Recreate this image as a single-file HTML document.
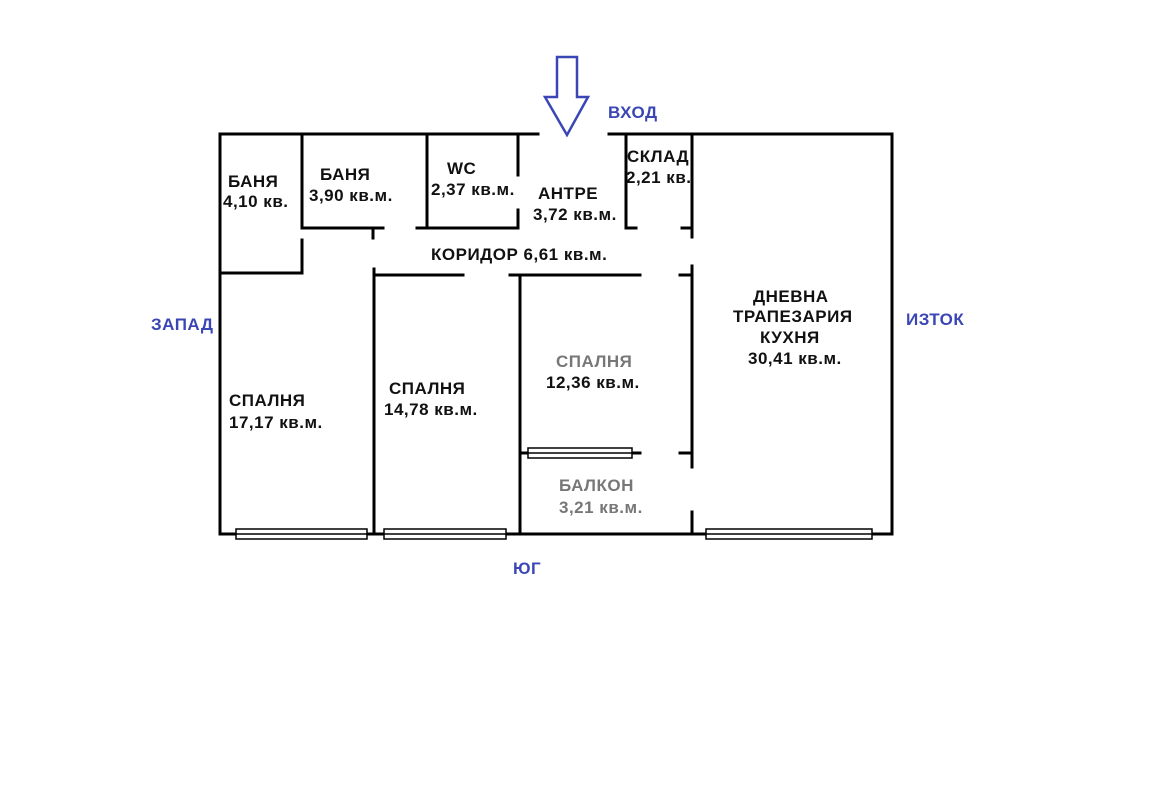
<!DOCTYPE html>
<html><head><meta charset="utf-8"><style>
body{margin:0;background:#fff;}
svg text{font-family:"Liberation Sans",Arial,sans-serif;font-weight:bold;font-size:17px;letter-spacing:0.5px;fill:#111;}
.b{fill:#3b46b5;}
.g{fill:#777;}
</style></head><body>
<svg width="1170" height="785" viewBox="0 0 1170 785" xmlns="http://www.w3.org/2000/svg">
<g stroke="#000" stroke-width="3" fill="none" stroke-linecap="square">
<path d="M538 134H220V534H236M367 534H384M506 534H706M872 534H892V134H609"/>
<path d="M302 134V228H383M373 228V238M302 240V273H220"/>
<path d="M427 134V228M417 228H518V210M518 134V175"/>
<path d="M626 134V228H636M692 134V237M682 228H692"/>
<path d="M374 269V534M374 275H463M510 275H640M680 275H692M692 266V467M520 275V534"/>
<path d="M520 453H528M632 453H640M680 453H692M692 512V534"/>
</g>
<g stroke="#000" stroke-width="1.5" fill="#fff">
<rect x="236" y="529" width="131" height="10"/><line x1="236" y1="534" x2="367" y2="534"/>
<rect x="384" y="529" width="122" height="10"/><line x1="384" y1="534" x2="506" y2="534"/>
<rect x="706" y="529" width="166" height="10"/><line x1="706" y1="534" x2="872" y2="534"/>
<rect x="528" y="448" width="104" height="10"/><line x1="528" y1="453" x2="632" y2="453"/>
</g>
<path d="M557 57H577V97H588L567 135L545 97H557Z" fill="#fff" stroke="#3b46b5" stroke-width="2.5" stroke-linejoin="miter"/>
<text class="b" x="608" y="118">ВХОД</text>
<text class="b" x="151" y="330">ЗАПАД</text>
<text class="b" x="906" y="325">ИЗТОК</text>
<text class="b" x="513" y="574">ЮГ</text>
<text x="228" y="187">БАНЯ</text>
<text x="223" y="207">4,10 кв.</text>
<text x="320" y="180">БАНЯ</text>
<text x="309" y="201">3,90 кв.м.</text>
<text x="447" y="174">WC</text>
<text x="431" y="195">2,37 кв.м.</text>
<text x="538" y="199">АНТРЕ</text>
<text x="533" y="220">3,72 кв.м.</text>
<text x="627" y="162">СКЛАД</text>
<text x="626" y="183">2,21 кв.</text>
<text x="431" y="260">КОРИДОР 6,61 кв.м.</text>
<text x="229" y="406">СПАЛНЯ</text>
<text x="229" y="428">17,17 кв.м.</text>
<text x="389" y="394">СПАЛНЯ</text>
<text x="384" y="415">14,78 кв.м.</text>
<text class="g" x="556" y="367">СПАЛНЯ</text>
<text x="546" y="388">12,36 кв.м.</text>
<text x="753" y="302">ДНЕВНА</text>
<text x="733" y="322">ТРАПЕЗАРИЯ</text>
<text x="760" y="343">КУХНЯ</text>
<text x="748" y="364">30,41 кв.м.</text>
<text class="g" x="559" y="491">БАЛКОН</text>
<text class="g" x="559" y="513">3,21 кв.м.</text>
</svg>
</body></html>
